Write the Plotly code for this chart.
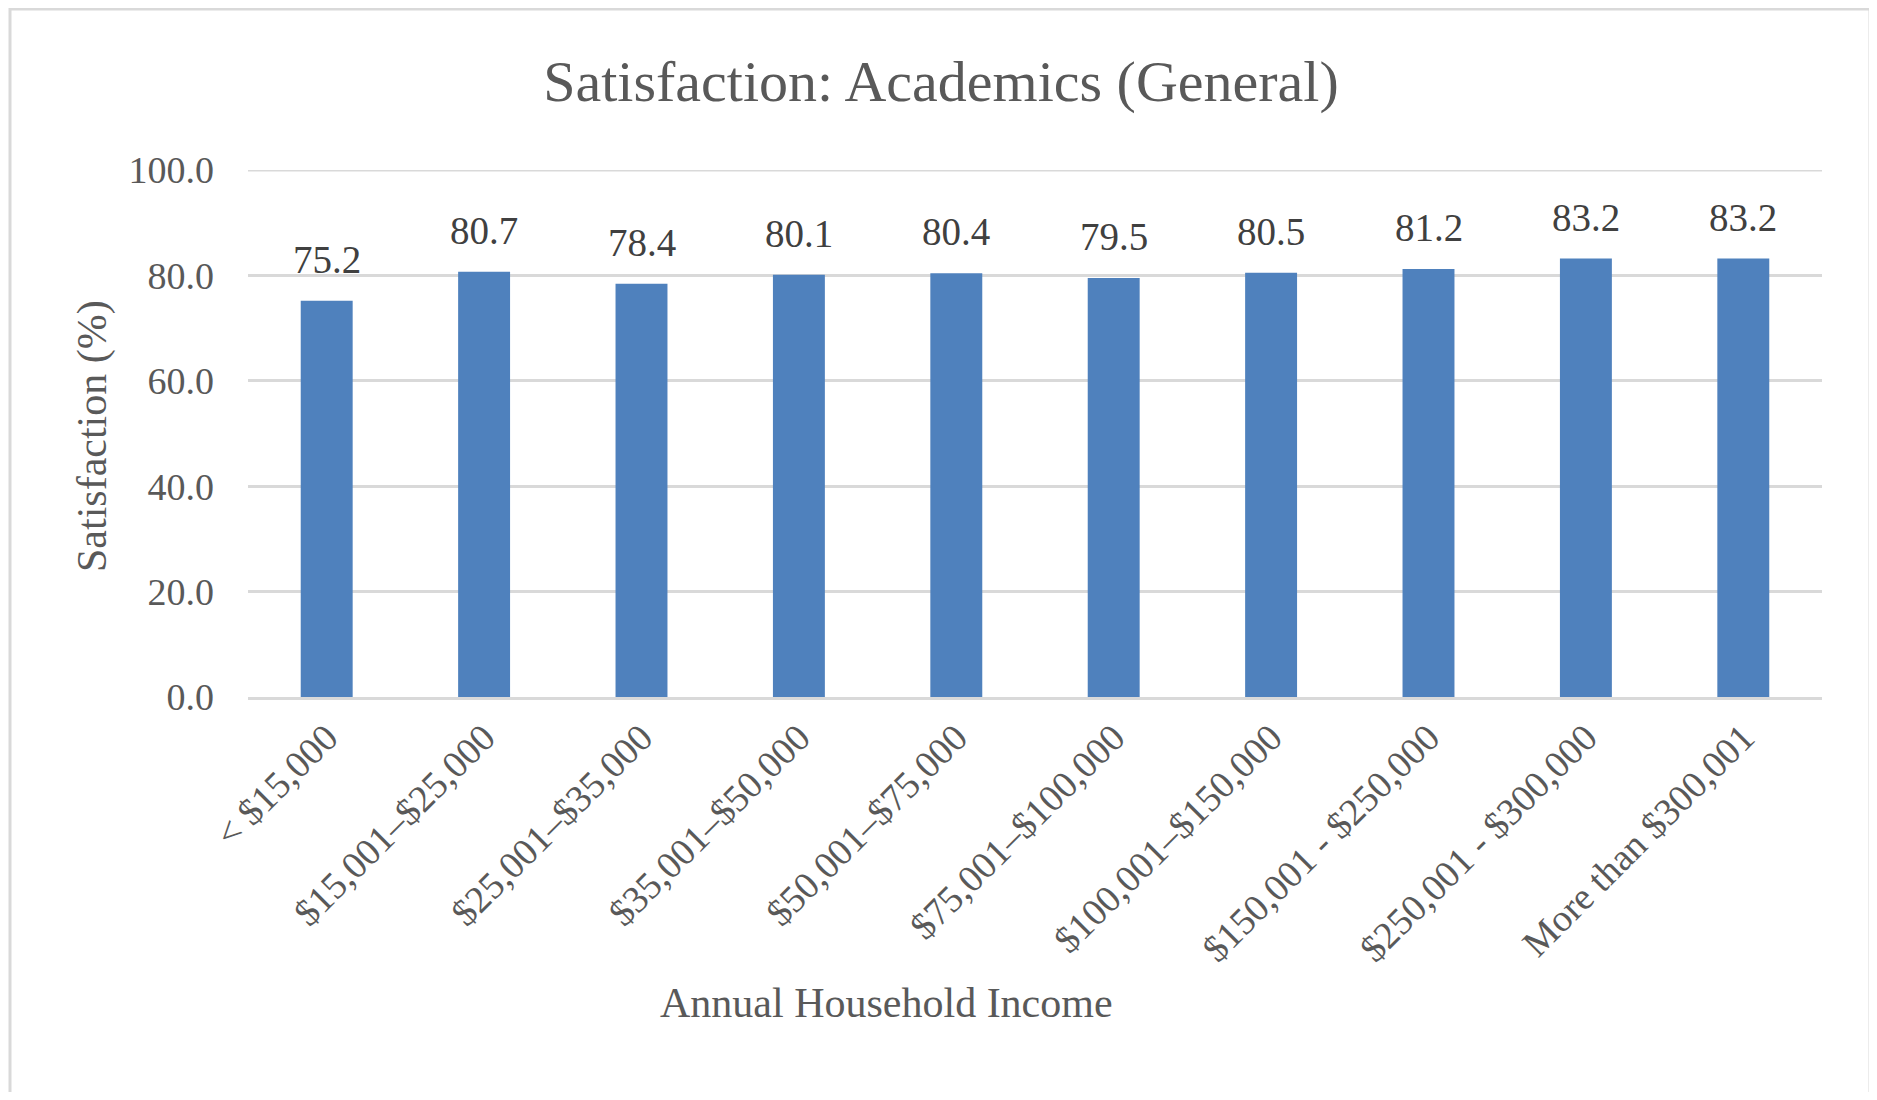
import plotly.graph_objects as go

categories = ["< $15,000", "$15,001–$25,000", "$25,001–$35,000", "$35,001–$50,000",
              "$50,001–$75,000", "$75,001–$100,000", "$100,001–$150,000",
              "$150,001 - $250,000", "$250,001 - $300,000", "More than $300,001"]
values = [75.2, 80.7, 78.4, 80.1, 80.4, 79.5, 80.5, 81.2, 83.2, 83.2]
y_ticks = [0, 20, 40, 60, 80, 100]
y_tick_labels = ["0.0", "20.0", "40.0", "60.0", "80.0", "100.0"]

FONT = "Liberation Serif"
GRAY = "#595959"
OFF = 8  # browser body margin
W, H = 1877 - 2 * OFF, 1100 - 2 * OFF
# target page coordinates of plot area
PL, PR, PT, PB = 248, 1822, 170, 697
L, T = PL - OFF, PT - OFF
R = W - (PR - OFF)
B = H - (PB - OFF)
pw, ph = PR - PL, PB - PT


def px(xp):
    return (xp - PL) / pw


def py(yp):
    return (PB - yp) / ph


fig = go.Figure()
fig.add_trace(go.Bar(x=categories, y=values, marker_color="#4F81BD",
                     marker_line_width=0, width=0.33))

for c, v in zip(categories, values):
    fig.add_annotation(x=c, y=v, text=f"{v:.1f}", showarrow=False,
                       yanchor="bottom", yshift=18,
                       font=dict(family=FONT, size=39, color="#404040"))

fig.add_annotation(xref="paper", yref="paper", x=px(886), y=py(1003),
                   xanchor="center", yanchor="middle",
                   text="Annual Household Income", showarrow=False,
                   font=dict(family=FONT, size=42, color=GRAY))
fig.add_annotation(xref="paper", yref="paper", x=px(92), y=py(436), textangle=-90,
                   xanchor="center", yanchor="middle",
                   text="Satisfaction (%)", showarrow=False,
                   font=dict(family=FONT, size=42, color=GRAY))

# top gridline at 100
fig.add_shape(type="line", xref="paper", yref="y", x0=0, x1=1, y0=100, y1=100,
              line=dict(color="#D9D9D9", width=3), layer="below")

# chart border
fig.add_shape(type="rect", xref="paper", yref="paper",
              x0=px(10), x1=px(1870), y0=py(1120), y1=py(9),
              line=dict(color="#D9D9D9", width=3), fillcolor="rgba(0,0,0,0)", layer="below")

fig.update_layout(
    width=W, height=H,
    margin=dict(l=L, r=R, t=T, b=B),
    paper_bgcolor="white", plot_bgcolor="white",
    showlegend=False,
    title=dict(text="Satisfaction: Academics (General)", x=(941 - OFF) / W, xanchor="center",
               y=1 - (81 - OFF) / H, yanchor="middle",
               font=dict(family=FONT, size=58, color=GRAY)),
    xaxis=dict(type="category", tickangle=-45, showgrid=False, ticks="",
               showline=True, linecolor="#D9D9D9", linewidth=3,
               tickfont=dict(family=FONT, size=38, color=GRAY)),
    yaxis=dict(range=[0, 100], tickvals=y_ticks, ticktext=y_tick_labels,
               showgrid=True, gridcolor="#D9D9D9", gridwidth=3, zeroline=False,
               showline=False, ticks="", ticklabelstandoff=33,
               tickfont=dict(family=FONT, size=38, color=GRAY)),
)

fig.write_html("out.html")
